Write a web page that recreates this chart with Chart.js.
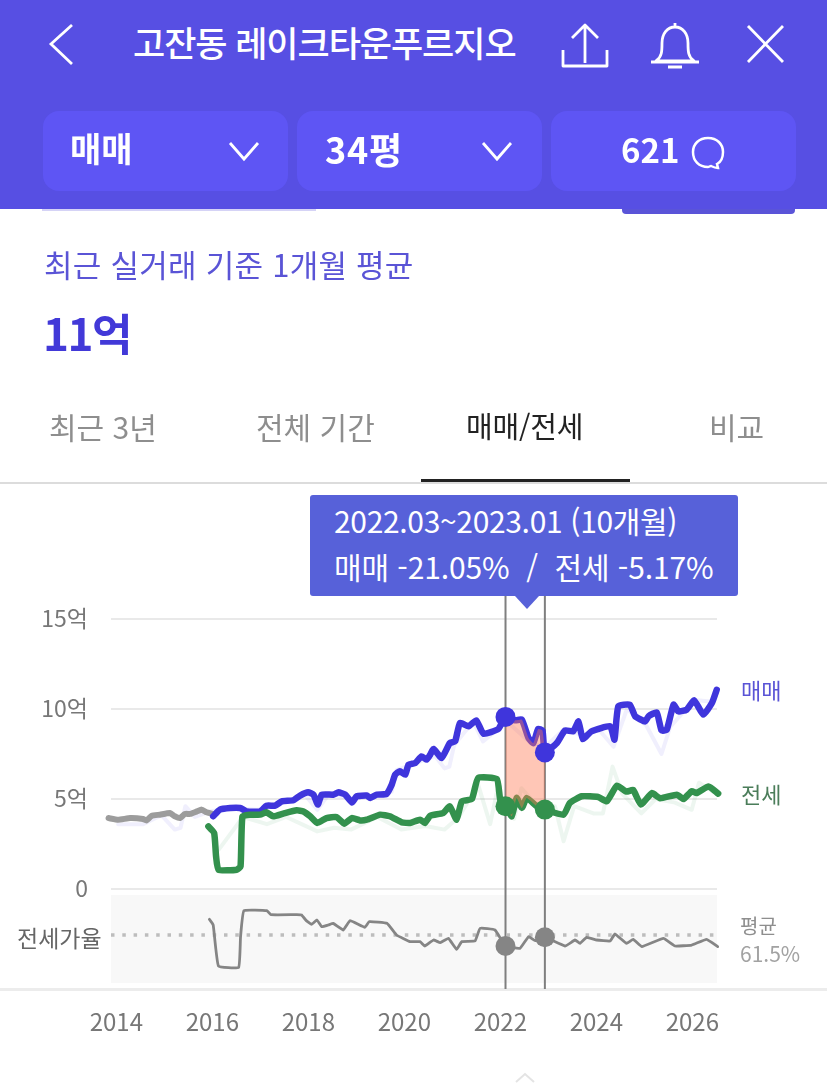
<!DOCTYPE html>
<html lang="ko"><head><meta charset="utf-8">
<script src="https://cdn.jsdelivr.net/npm/chart.js@4"></script>
<style>
html,body{margin:0;padding:0;background:#fff}
#page{position:relative;width:827px;height:1083px;overflow:hidden;font-family:"Noto Sans CJK KR","Noto Sans",sans-serif;filter:blur(.5px)}
#page>*{position:absolute}
.t{white-space:nowrap;line-height:1}
.btn{top:111px;width:245px;height:80px;border-radius:16px;background:#5e55f4}
canvas{left:0;top:0}
</style></head><body><div id="page">
<div style="left:0;top:0;width:827px;height:209px;background:#574fe3"></div>
<div style="left:622px;top:209px;width:173px;height:5px;background:#5a54d8;border-radius:0 0 4px 4px"></div>
<div style="left:42px;top:209px;width:274px;height:2px;background:#d5d3f6"></div>
<svg style="left:0;top:0" width="827" height="209" fill="none" stroke="#fff" stroke-width="2.8">
<path d="M72 25 51 44 72 64"/>
<path d="M585 27v36M572 38l13-13 13 13M563 50v16h44V50" stroke-linejoin="round"/>
<path d="M656 61c6-4 6-10 6-18 0-9 5-16 13-16s13 7 13 16c0 8 0 14 6 18zM651 62h48M668 67h14M675 23v4" stroke-linejoin="round"/>
<path d="M748 26 783 62M783 26 748 62"/>
</svg>
<div class="t" style="left:133px;top:24px;font-size:35px;font-weight:500;color:#fff;letter-spacing:-1.05px">고잔동 레이크타운푸르지오</div>
<div class="btn" style="left:43px"></div><div class="btn" style="left:297px"></div><div class="btn" style="left:551px"></div>
<svg style="left:0;top:0;z-index:2" width="827" height="209" fill="none" stroke="#fff" stroke-width="2.8">
<path d="M230 143l14 16 14-16M483 143l14 16 14-16"/>
<path d="M708 138c9 0 15 6 15 14 0 6-2 10-6 12l1 4c-3 0-5-1-7-2-1 0-2 1-3 1-9 0-15-6-15-15 0-8 6-14 15-14z" stroke-width="2.5"/>
</svg>
<div class="t" style="left:70px;top:131px;font-size:34px;font-weight:700;color:#fff;z-index:2">매매</div>
<div class="t" style="left:325px;top:130px;font-size:36px;font-weight:700;color:#fff;z-index:2;letter-spacing:.8px">34평</div>
<div class="t" style="left:621px;top:133px;font-size:33px;font-weight:700;color:#fff;z-index:2">621</div>

<div class="t" style="left:44px;top:248px;font-size:31px;color:#5a54d6;letter-spacing:.25px">최근 실거래 기준 1개월 평균</div>
<div class="t" style="left:43px;top:310px;font-size:44px;font-weight:700;color:#4239d8;letter-spacing:-1.5px">11억</div>
<div class="t" style="left:49px;top:411px;font-size:30px;color:#8e8e8e">최근 3년</div>
<div class="t" style="left:256px;top:411px;font-size:30px;color:#8e8e8e">전체 기간</div>
<div class="t" style="left:466px;top:411px;font-size:29px;color:#222;letter-spacing:-.2px">매매/전세</div>
<div class="t" style="left:709px;top:411px;font-size:30px;color:#8e8e8e">비교</div>
<div style="left:0;top:482px;width:827px;height:2px;background:#dcdcdc"></div>
<div style="left:421px;top:479px;width:209px;height:3px;background:#222"></div>

<canvas id="c" width="827" height="1083" style="position:absolute;width:827px;height:1083px"></canvas>

<div style="left:0;top:988px;width:827px;height:3px;background:#ececec;z-index:-1"></div>
<div style="left:310px;top:495px;width:428px;height:101px;background:#5761d9;border-radius:3px;z-index:3"></div>
<div style="left:515px;top:596px;width:0;height:0;border-left:12px solid transparent;border-right:12px solid transparent;border-top:13px solid #5761d9;z-index:3"></div>
<div class="t" style="left:334px;top:505px;font-size:30px;color:#fff;z-index:4;letter-spacing:-.33px">2022.03~2023.01 (10개월)</div>
<div class="t" style="left:334px;top:551px;font-size:30px;color:#fff;z-index:4;letter-spacing:-.1px;white-space:pre">매매 -21.05%  /  전세 -5.17%</div>
<div class="t" style="left:741px;top:678px;font-size:22px;color:#5a54d6">매매</div>
<div class="t" style="left:741px;top:782px;font-size:22px;color:#4b7d5a">전세</div>
<div class="t" style="left:17px;top:926px;font-size:23px;color:#666">전세가율</div>
<div class="t" style="left:740px;top:916px;font-size:20px;color:#8e8e8e">평균</div>
<div class="t" style="left:740px;top:943px;font-size:21px;color:#a2a2a2">61.5%</div>
<svg style="left:510px;top:1072px" width="30" height="11" fill="none" stroke="#e4e4e4" stroke-width="2"><path d="M6 10l9-8 9 8"/></svg>
</div>
<script>
const tickYears=[2014,2016,2018,2020,2022,2024,2026];
const priceTicks=[0,5,10,15];
const earlyYears=[2013.90,2014.10,2014.35,2014.62,2014.69,2014.80,2014.97,2015.18,2015.28,2015.39,2015.49,2015.60,2015.74,2015.84,2015.94,2016.05];
const earlyValues=[3.94,3.85,3.94,3.89,3.81,4.07,4.13,4.22,4.04,3.94,4.17,4.17,4.31,4.41,4.26,4.19];
const saleYears=[2016.08,2016.22,2016.43,2016.64,2016.78,2017.06,2017.19,2017.37,2017.51,2017.75,2017.89,2018.06,2018.17,2018.26,2018.34,2018.58,2018.69,2018.83,2018.97,2019.07,2019.28,2019.35,2019.49,2019.69,2019.80,2019.87,2019.97,2020.08,2020.15,2020.29,2020.42,2020.53,2020.60,2020.67,2020.84,2021.01,2021.12,2021.22,2021.40,2021.56,2021.71,2022.02,2022.17,2022.37,2022.51,2022.65,2022.75,2022.85,2022.94,2022.99,2023.24,2023.41,2023.58,2023.69,2023.78,2023.96,2024.35,2024.44,2024.52,2024.76,2024.87,2025.08,2025.15,2025.32,2025.42,2025.53,2025.67,2025.77,2025.94,2026.10,2026.29,2026.47,2026.57];
const saleValues=[4.04,4.41,4.5,4.5,4.31,4.31,4.63,4.63,4.87,4.93,5.19,5.37,5.24,4.69,5.24,5.24,5.37,5.24,4.81,5.15,5.19,5.06,5.24,5.28,5.8,6.35,6.54,6.35,6.91,7.0,7.37,7.19,7.46,7.78,7.28,8.11,8.2,9.22,9.04,9.37,8.63,8.89,9.56,9.37,9.41,8.39,8.11,8.89,8.81,7.59,8.11,8.81,8.76,9.31,8.33,8.76,9.04,8.3,10.15,10.24,9.6,9.31,9.6,9.81,8.81,8.85,10.24,9.87,9.96,10.48,9.69,10.33,11.07];
const rentYears=[2015.98,2016.10,2016.14,2016.19,2016.57,2016.65,2016.69,2016.85,2017.06,2017.19,2017.33,2017.54,2017.82,2017.96,2018.10,2018.25,2018.44,2018.65,2018.81,2018.97,2019.14,2019.28,2019.56,2019.76,2020.01,2020.18,2020.39,2020.49,2020.60,2020.87,2021.01,2021.15,2021.26,2021.47,2021.60,2021.99,2022.06,2022.17,2022.30,2022.40,2022.51,2022.61,2022.82,2022.99,2023.38,2023.51,2023.76,2024.10,2024.28,2024.49,2024.69,2024.83,2024.99,2025.22,2025.39,2025.74,2025.88,2026.05,2026.15,2026.40,2026.60];
const rentValues=[3.48,3.11,1.81,1.07,1.07,1.26,4.04,4.13,4.13,4.26,4.04,4.19,4.37,4.31,4.04,3.67,3.94,4.0,3.63,3.94,3.81,3.85,4.13,4.04,3.7,3.67,3.85,3.67,4.07,4.22,4.59,3.85,4.87,5.0,6.17,6.11,4.96,4.6,4.04,5.06,4.5,5.06,4.6,4.41,4.13,4.78,5.15,5.11,4.87,5.74,5.41,5.5,4.69,5.33,5.04,5.24,5.0,5.43,5.33,5.7,5.3];
const ratioYears=[2016.00,2016.08,2016.19,2016.61,2016.65,2016.72,2017.20,2017.28,2017.82,2017.92,2018.02,2018.13,2018.24,2018.34,2018.48,2018.58,2018.79,2018.93,2019.24,2019.33,2019.70,2019.90,2020.18,2020.39,2020.49,2020.67,2020.81,2020.98,2021.15,2021.26,2021.535,2021.64,2021.95,2022.17,2022.47,2022.65,2022.79,2022.99,2023.41,2023.62,2023.72,2023.86,2024.07,2024.35,2024.45,2024.69,2024.83,2025.01,2025.46,2025.70,2026.05,2026.36,2026.59];
const ratioValues=[80.6,73.7,23.7,22.1,59.5,91.2,91.2,86.3,86.3,85.9,79,74.5,79.8,71.7,73.7,75.7,67.6,79,70.9,77.8,75.7,61.5,53.4,53.4,48.1,55.4,52.2,57.4,44,53.4,54.2,69.6,67.6,48.1,45.2,59.5,54.6,58.7,48.1,55.4,51.3,58.7,55.4,54.2,62.7,51.3,56.2,47.3,57.4,48.1,49.3,56.2,47.3];
const paleSaleYears=[2014.1,2014.62,2015.0,2015.28,2015.4,2015.5,2015.7,2016.0,2016.5,2017.0,2018.0,2018.25,2018.5,2019.0,2019.8,2019.9,2020.2,2020.7,2020.9,2021.0,2021.1,2021.5,2021.7,2022.2,2022.7,2023.0,2023.4,2023.8,2024.1,2024.42,2024.7,2025.1,2025.42,2025.6,2026.1,2026.5];
const paleSaleValues=[3.6,3.6,4.1,3.3,3.4,4.6,4.0,4.3,4.5,4.4,5.2,4.4,5.3,5.0,5.4,6.6,6.9,7.4,6.7,6.8,8,9.3,8.2,9.3,8.1,7.9,8.9,8.5,8.9,7.9,10,9.1,7.5,9.0,10.5,10.4];
const paleRentYears=[2016.2,2016.7,2017.2,2017.6,2018.25,2018.6,2018.95,2019.5,2020.0,2020.5,2020.9,2021.2,2021.6,2021.85,2022.0,2022.35,2022.5,2022.8,2023.2,2023.38,2023.6,2024.0,2024.2,2024.4,2024.6,2025.0,2025.3,2025.7,2026.05,2026.2,2026.5];
const paleRentValues=[2.2,4.0,3.6,4.0,3.2,3.4,3.3,4.0,3.3,3.5,3.3,4.0,5.8,3.6,5.5,3.9,5.6,4.7,4.6,2.65,4.6,4.2,4.2,6.8,5.3,4.2,5.0,4.8,4.4,5.9,5.4];
const avgRatio=61.5;
const markerYears=[2022.17,2022.99];
const saleMarkers=[9.56,7.59];
const rentMarkers=[4.6,4.41];
const ratioMarkers=[48.1,58.7];
const bandTop=110.3, bandBottom=2.96;
const priceRange=[-5.556,16.278], ratioRange=[-4.35,474.9], yearRange=[2013.951,2026.576];

const pts=(xs,ys)=>xs.map((x,i)=>({x,y:ys[i]}));
const inRange=a=>a.filter(p=>p.x>=markerYears[0]&&p.x<=markerYears[1]);
const lineDs=(data,color,width,extra={})=>Object.assign({data,borderColor:color,borderWidth:width,pointRadius:0,tension:.15,borderCapStyle:'round',borderJoinStyle:'round',clip:false,fill:false,yAxisID:'y'},extra);
const dotDs=(ys,color,yAxisID,r)=>({data:pts(markerYears,ys),showLine:false,pointRadius:r,pointBackgroundColor:color,pointBorderWidth:0,clip:false,yAxisID});

const bandPlugin={id:'band',beforeDatasetsDraw(ch){
  const {ctx,chartArea:a,scales:s}=ch;
  const t=s.y1.getPixelForValue(bandTop),b=s.y1.getPixelForValue(bandBottom);
  ctx.save();ctx.fillStyle='#f8f8f8';ctx.fillRect(a.left,t,a.right-a.left,b-t);ctx.restore();
}};
const rulePlugin={id:'rules',beforeDatasetsDraw(ch){
  const {ctx,chartArea:a,scales:s}=ch;
  ctx.save();ctx.strokeStyle='#7f7f7f';ctx.lineWidth=2;
  markerYears.forEach(y=>{const x=s.x.getPixelForValue(y);ctx.beginPath();ctx.moveTo(x,a.top);ctx.lineTo(x,a.bottom);ctx.stroke();});
  ctx.restore();
}};
const family='"Noto Sans CJK KR","Noto Sans",sans-serif';
const datasets=[
  lineDs(pts(paleSaleYears,paleSaleValues),'rgba(90,80,235,.09)',4,{tension:0}),
  lineDs(pts(paleRentYears,paleRentValues),'rgba(60,160,90,.09)',4,{tension:0}),
  lineDs(pts(earlyYears,earlyValues),'#9c9c9c',6),
  lineDs(pts(saleYears,saleValues),'#3f35dc',6.5),
  lineDs(pts(rentYears,rentValues),'#33914d',6.5),
  lineDs(pts([yearRange[0],2026.66],[avgRatio,avgRatio]),'#bdbdbd',3.5,{yAxisID:'y1',borderDash:[3.5,7.8],borderCapStyle:'butt',tension:0}),
  lineDs(pts(ratioYears,ratioValues),'#858585',2.8,{yAxisID:'y1',tension:.1}),
  lineDs(inRange(pts(rentYears,rentValues)),'rgba(0,0,0,0)',0),
  lineDs(inRange(pts(saleYears,saleValues)),'rgba(0,0,0,0)',0,{fill:{target:7},backgroundColor:'rgba(255,120,80,.42)'}),
  dotDs(rentMarkers,'#33914d','y',10),
  dotDs(saleMarkers,'#3f35dc','y',10),
  dotDs(ratioMarkers,'#858585','y1',10)
];
datasets.forEach((d,i)=>{d.order=datasets.length-i;});
new Chart(document.getElementById('c'),{
  type:'line',
  plugins:[bandPlugin,rulePlugin],
  data:{datasets},
  options:{
    responsive:false,animation:false,devicePixelRatio:1,
    layout:{padding:{top:596,right:110,left:0,bottom:0}},
    plugins:{legend:{display:false},tooltip:{enabled:false}},
    elements:{point:{hoverRadius:0}},
    events:[],
    scales:{
      x:{type:'linear',min:yearRange[0],max:yearRange[1],
        grid:{display:false},border:{display:false},
        afterBuildTicks(s){s.ticks=tickYears.map(value=>({value}));},
        afterFit(s){s.height=94;},
        ticks:{color:'#777',font:{family,size:24},padding:10,maxRotation:0,autoSkip:false,labelOffset:3,callback:v=>String(v)}},
      y:{type:'linear',min:priceRange[0],max:priceRange[1],position:'left',
        grid:{color:'#e9e9e9',lineWidth:2,drawTicks:false},border:{display:false},
        afterBuildTicks(s){s.ticks=priceTicks.map(value=>({value}));},
        afterFit(s){s.width=111;},
        ticks:{color:'#777',font:{family,size:23},padding:23,autoSkip:false,labelOffset:-1,callback:v=>v===0?'0':v+'억'}},
      y1:{type:'linear',min:ratioRange[0],max:ratioRange[1],display:false}
    }
  }
});
</script></body></html>
